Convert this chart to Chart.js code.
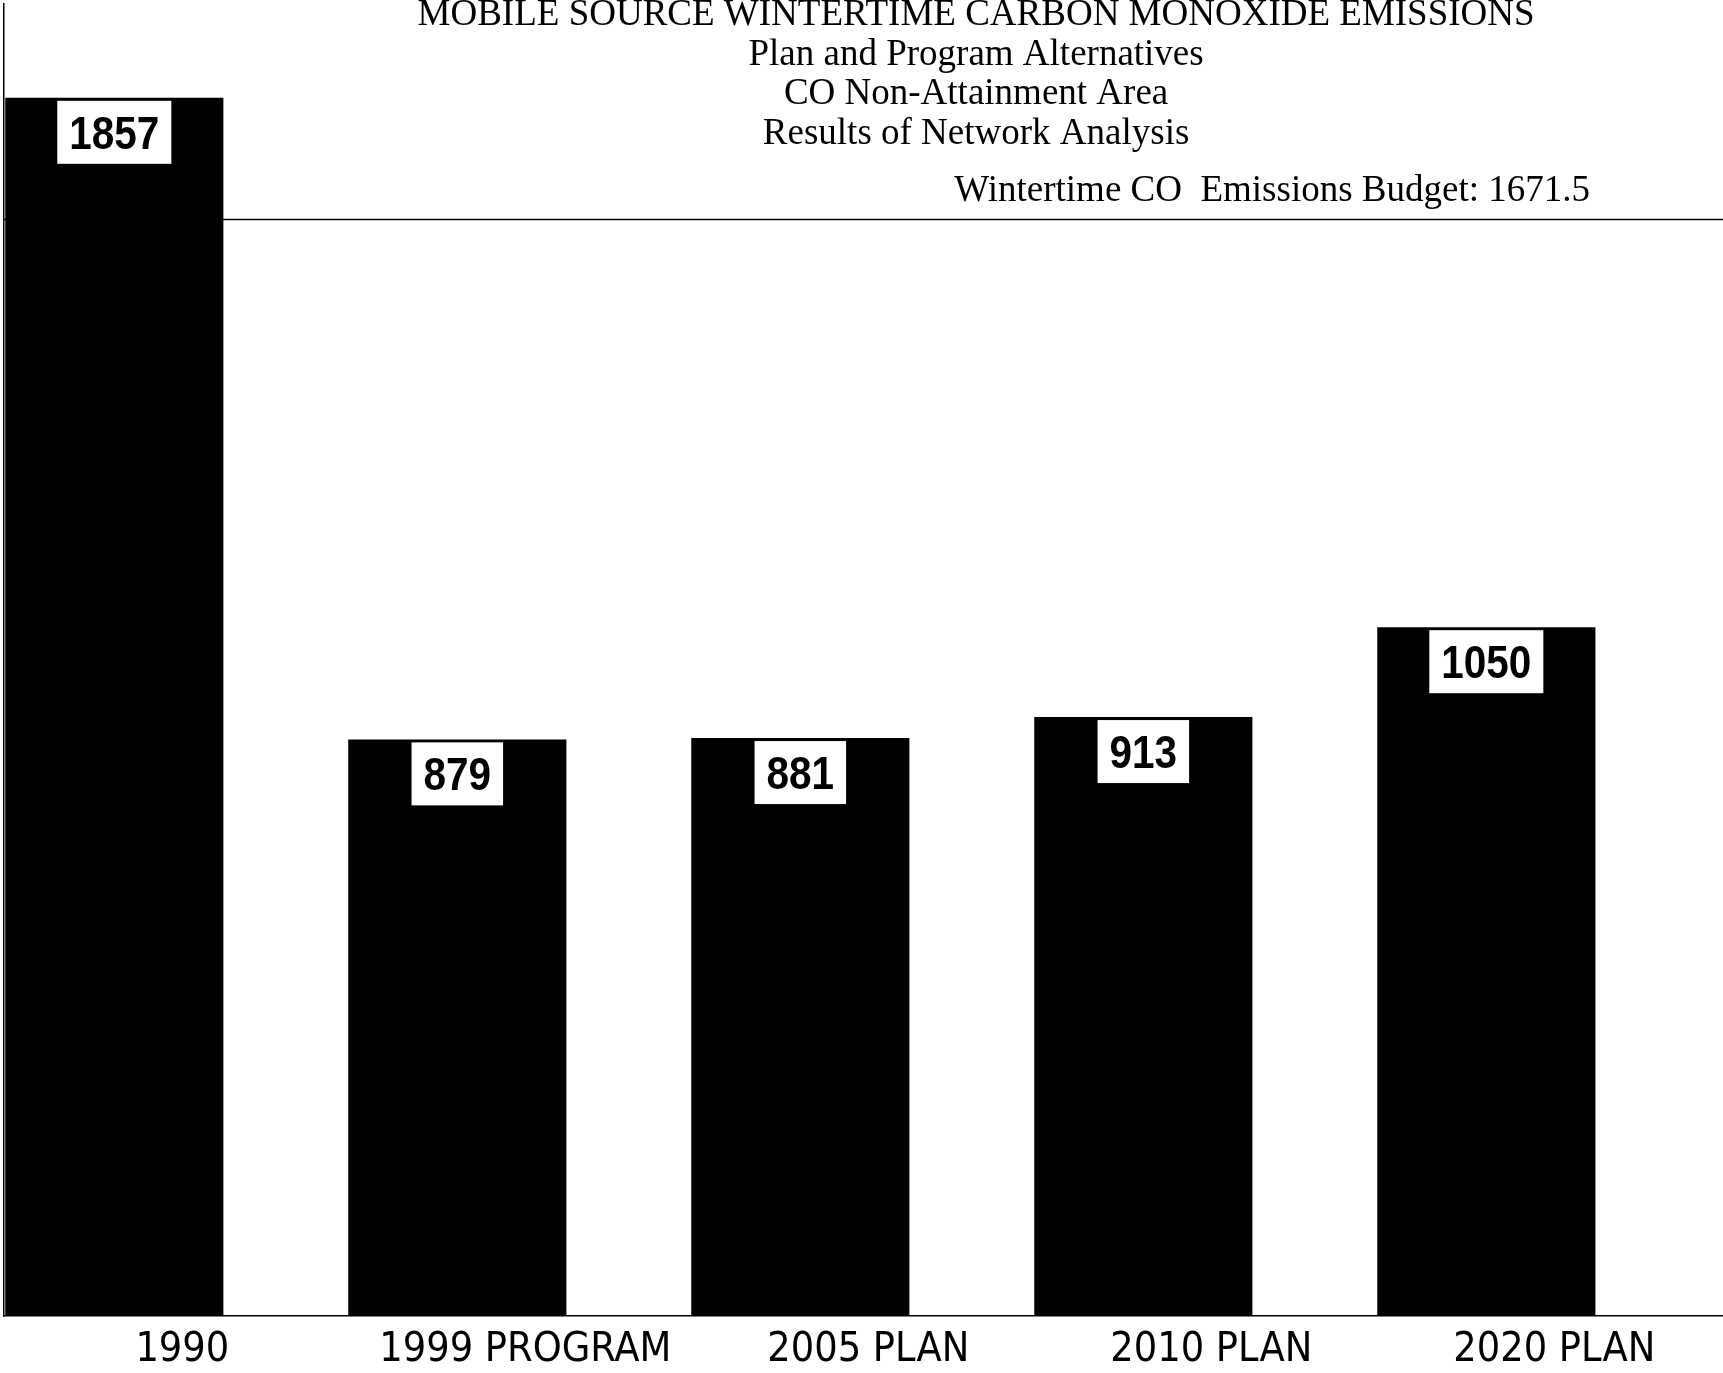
<!DOCTYPE html>
<html>
<head>
<meta charset="utf-8">
<title>Mobile Source Wintertime Carbon Monoxide Emissions</title>
<script src="https://cdn.jsdelivr.net/npm/chart.js@4/dist/chart.umd.min.js"></script>
<style>
  html, body { margin: 0; padding: 0; background: #fff; }
  canvas { display: block; }
</style>
</head>
<body>
<canvas id="chart" width="1723" height="1373"></canvas>
<script>
// Emissions by plan / program alternative
const categories = ['1990', '1999 PROGRAM', '2005 PLAN', '2010 PLAN', '2020 PLAN'];
const emissions = [1857, 879, 881, 913, 1050];
const budget = 1671.5;
const titleLines = [
  'MOBILE SOURCE WINTERTIME CARBON MONOXIDE EMISSIONS',
  'Plan and Program Alternatives',
  'CO Non-Attainment Area',
  'Results of Network Analysis'
];
const budgetLabel = 'Wintertime CO  Emissions Budget: ' + budget;

const SERIF = '"Liberation Serif", "Times New Roman", Times, serif';
const CONDENSED = '"DejaVu Sans Condensed", "Liberation Sans Narrow", "Arial Narrow", sans-serif';
const SANS = '"Liberation Sans", Arial, Helvetica, sans-serif';

// Title block and budget reference line with its caption
const annotations = {
  id: 'annotations',
  beforeDatasetsDraw(chart) {
    const { ctx, chartArea, scales } = chart;
    const y = scales.y.getPixelForValue(budget);
    ctx.save();
    ctx.strokeStyle = '#000';
    ctx.lineWidth = 1.5;
    ctx.beginPath();
    ctx.moveTo(chartArea.left, y);
    ctx.lineTo(chartArea.right, y);
    ctx.stroke();

    ctx.fillStyle = '#000';
    ctx.font = '37px ' + SERIF;
    ctx.textAlign = 'right';
    ctx.textBaseline = 'alphabetic';
    ctx.fillText(budgetLabel, chartArea.right - 133, y - 18);

    ctx.textAlign = 'center';
    const cx = chart.width * 0.5665;
    titleLines.forEach((line, i) => {
      ctx.fillText(line, cx, 25 + i * 39.6);
    });
    ctx.restore();
  },
  // White value boxes just inside the top of each bar
  afterDatasetsDraw(chart) {
    const { ctx } = chart;
    const meta = chart.getDatasetMeta(0);
    const squeeze = 0.88;
    ctx.save();
    ctx.font = 'bold 46px ' + SANS;
    ctx.textAlign = 'center';
    ctx.textBaseline = 'alphabetic';
    meta.data.forEach((bar, i) => {
      const text = String(emissions[i]);
      const w = ctx.measureText(text).width * squeeze + 24;
      const h = 63;
      const top = bar.y + 3;
      ctx.fillStyle = '#fff';
      ctx.fillRect(bar.x - w / 2, top, w, h);
      ctx.fillStyle = '#000';
      ctx.save();
      ctx.translate(bar.x, top + h / 2 + 16.5);
      ctx.scale(squeeze, 1);
      ctx.fillText(text, 0, 0);
      ctx.restore();
    });
    ctx.restore();
  }
};

new Chart(document.getElementById('chart'), {
  type: 'bar',
  data: {
    datasets: [{
      data: emissions.map((v, i) => ({ x: i, y: v })),
      backgroundColor: '#000',
      borderWidth: 0,
      barPercentage: 0.636,
      categoryPercentage: 1
    }]
  },
  options: {
    responsive: false,
    animation: false,
    layout: { padding: { top: 4, left: 0, right: 0, bottom: 0 } },
    plugins: {
      legend: { display: false },
      tooltip: { enabled: false },
      title: { display: false }
    },
    scales: {
      x: {
        type: 'linear',
        offset: false,
        min: -0.3216,
        max: 4.69,
        grid: { display: false, drawTicks: false },
        border: { display: true, color: '#000', width: 1.5 },
        afterBuildTicks(scale) {
          scale.ticks = categories.map((_, i) => ({ value: i }));
        },
        afterFit(scale) { scale.height = 57; },
        ticks: {
          autoSkip: false,
          maxRotation: 0,
          padding: 10,
          labelOffset: 68,
          color: '#000',
          font: { family: CONDENSED, size: 41 },
          callback: (value) => categories[value] ?? ''
        }
      },
      y: {
        min: 0,
        max: 2000,
        grid: { display: false, drawTicks: false },
        border: { display: true, color: '#000', width: 1.5 },
        ticks: { display: false },
        afterFit(scale) { scale.width = 4; }
      }
    }
  },
  plugins: [annotations]
});
</script>
</body>
</html>
